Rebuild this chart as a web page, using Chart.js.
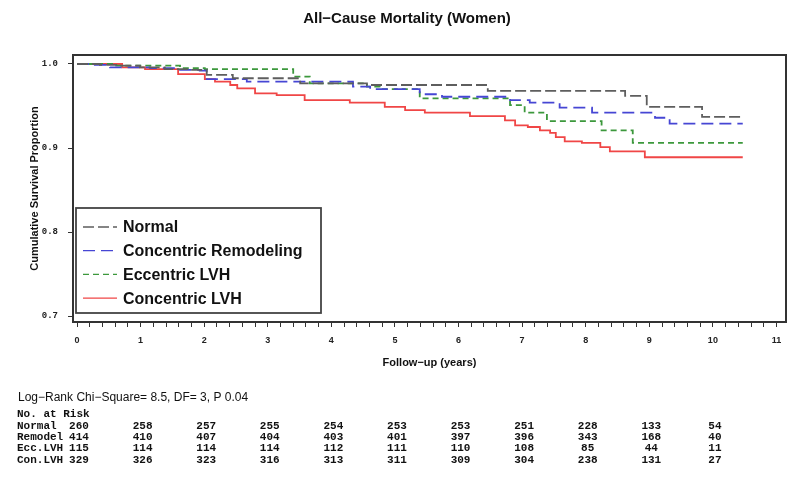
<!DOCTYPE html>
<html>
<head>
<meta charset="utf-8">
<title>All-Cause Mortality (Women)</title>
<script src="https://cdn.jsdelivr.net/npm/chart.js@4.4.1/dist/chart.umd.min.js"></script>
<style>
  html, body { margin: 0; padding: 0; background: #fff; }
</style>
</head>
<body>
<canvas id="km" width="800" height="483"></canvas>
<script>
// Kaplan-Meier steps (years, survival)
const normalT = [0, 0.36, 0.68, 0.99, 1.38, 1.78, 2.04, 2.45, 3.51, 4.56, 6.46, 8.62, 8.96, 9.83, 10.47];
const normalS = [1.0, 0.999, 0.998, 0.996, 0.994, 0.993, 0.987, 0.983, 0.977, 0.975, 0.968, 0.962, 0.949, 0.937, 0.937];

const remodelT = [0, 0.28, 0.52, 1.15, 1.62, 1.93, 2.04, 2.67, 4.34, 4.61, 5.39, 5.74, 6.81, 7.12, 7.59, 8.10, 9.09, 9.32, 10.47];
const remodelS = [1.0, 0.999, 0.996, 0.995, 0.993, 0.992, 0.982, 0.979, 0.973, 0.970, 0.964, 0.961, 0.957, 0.954, 0.948, 0.942, 0.936, 0.929, 0.929];

const eccT = [0, 0.60, 1.62, 2.01, 3.40, 3.66, 4.56, 4.76, 5.39, 6.81, 7.04, 7.39, 8.25, 8.74, 10.47];
const eccS = [1.0, 0.998, 0.995, 0.994, 0.985, 0.977, 0.973, 0.970, 0.959, 0.951, 0.942, 0.932, 0.921, 0.906, 0.906];

const concT = [0, 0.71, 1.07, 1.59, 2.01, 2.17, 2.41, 2.52, 2.80, 3.14, 3.58, 4.29, 4.84, 5.16, 5.47, 6.18, 6.73, 6.89, 7.09, 7.28, 7.44, 7.53, 7.67, 7.94, 8.23, 8.38, 8.93, 10.47];
const concS = [1.0, 0.996, 0.994, 0.988, 0.982, 0.979, 0.975, 0.971, 0.965, 0.963, 0.957, 0.954, 0.949, 0.945, 0.942, 0.938, 0.933, 0.927, 0.925, 0.921, 0.918, 0.913, 0.908, 0.906, 0.901, 0.896, 0.889, 0.889];

const yTicks = [0.7, 0.8, 0.9, 1.0];
const xLabels = [0, 1, 2, 3, 4, 5, 6, 7, 8, 9, 10, 11];

// number at risk table
const riskTimes = [0, 1, 2, 3, 4, 5, 6, 7, 8, 9, 10];
const riskNames = ['Normal', 'Remodel', 'Ecc.LVH', 'Con.LVH'];
const riskNormal = [260, 258, 257, 255, 254, 253, 253, 251, 228, 133, 54];
const riskRemodel = [414, 410, 407, 404, 403, 401, 397, 396, 343, 168, 40];
const riskEcc = [115, 114, 114, 114, 112, 111, 110, 108, 85, 44, 11];
const riskConc = [329, 326, 323, 316, 313, 311, 309, 304, 238, 131, 27];
const logRankText = 'Log\u2212Rank Chi\u2212Square= 8.5, DF= 3, P 0.04';

const toPts = (t, s) => t.map((x, i) => ({ x: x, y: s[i] }));

// minor ticks every 0.2 yr, labels only on whole years
const xTickVals = [];
for (let i = 0; i <= 55; i++) xTickVals.push(Math.round(i * 2) / 10);

const SANS = '"Liberation Sans", Arial, sans-serif';
const MONO = '"Liberation Mono", "DejaVu Sans Mono", monospace';

const decor = {
    id: 'decor',
    afterDatasetsDraw(chart) {
        const { ctx, chartArea: a } = chart;
        ctx.save();
        ctx.strokeStyle = '#333';
        ctx.lineWidth = 2;
        ctx.strokeRect(a.left, a.top, a.right - a.left, a.bottom - a.top);

        // legend box inside plot
        ctx.fillStyle = '#fff';
        ctx.fillRect(76, 208, 245, 105);
        ctx.strokeStyle = '#444';
        ctx.lineWidth = 1.8;
        ctx.strokeRect(76, 208, 245, 105);
        chart.data.datasets.forEach((ds, i) => {
            const y = 227 + i * 23.7;
            ctx.beginPath();
            ctx.setLineDash(ds.borderDash || []);
            ctx.strokeStyle = ds.borderColor;
            ctx.lineWidth = 1.3;
            ctx.moveTo(83, y);
            ctx.lineTo(117, y);
            ctx.stroke();
            ctx.setLineDash([]);
            ctx.fillStyle = '#111';
            ctx.font = 'bold 16px ' + SANS;
            ctx.textBaseline = 'middle';
            ctx.textAlign = 'left';
            ctx.fillText(ds.label, 123, y + 1);
        });
        ctx.restore();
    },
    afterDraw(chart) {
        const { ctx } = chart;
        const xs = chart.scales.x;
        ctx.save();
        ctx.fillStyle = '#111';
        ctx.textBaseline = 'middle';
        ctx.textAlign = 'left';
        ctx.font = '12px ' + SANS;
        ctx.fillText(logRankText, 18, 398);

        ctx.font = 'bold 11px ' + MONO;
        ctx.fillText('No. at Risk', 17, 414);
        const rows = [riskNormal, riskRemodel, riskEcc, riskConc];
        rows.forEach((row, r) => {
            const y = 426 + r * 11.3;
            ctx.textAlign = 'left';
            ctx.fillText(riskNames[r], 17, y);
            ctx.textAlign = 'center';
            row.forEach((n, j) => {
                ctx.fillText(String(n), xs.getPixelForValue(riskTimes[j]) + 2, y);
            });
        });
        ctx.restore();
    }
};

const ctx = document.getElementById('km').getContext('2d');
new Chart(ctx, {
    type: 'line',
    data: {
        datasets: [
            { label: 'Normal', data: toPts(normalT, normalS), borderColor: '#5e5e5e', borderDash: [11, 4] },
            { label: 'Concentric Remodeling', data: toPts(remodelT, remodelS), borderColor: '#4646d4', borderDash: [12, 6] },
            { label: 'Eccentric LVH', data: toPts(eccT, eccS), borderColor: '#3c983c', borderDash: [6, 4] },
            { label: 'Concentric LVH', data: toPts(concT, concS), borderColor: '#f04646', borderDash: [] }
        ]
    },
    options: {
        responsive: false,
        animation: false,
        devicePixelRatio: 1,
        datasets: {
            line: { stepped: true, borderWidth: 1.8, pointRadius: 0, fill: false, tension: 0 }
        },
        layout: { padding: { left: 28, right: 14, top: 0, bottom: 109 } },
        plugins: {
            legend: { display: false },
            tooltip: { enabled: false },
            title: {
                display: true,
                text: 'All\u2212Cause Mortality (Women)',
                color: '#111',
                font: { family: SANS, size: 15, weight: 'bold' },
                padding: { top: 10, bottom: 27 }
            }
        },
        scales: {
            x: {
                type: 'linear',
                min: -0.063,
                max: 11.15,
                afterBuildTicks: s => { s.ticks = xTickVals.map(v => ({ value: v })); },
                afterFit: s => { s.height = 52; },
                ticks: {
                    autoSkip: false,
                    maxRotation: 0,
                    padding: 8,
                    color: '#222',
                    font: { family: SANS, size: 9, weight: 'bold' },
                    callback: v => (xLabels.includes(v) ? String(v) : '')
                },
                grid: { drawOnChartArea: false, drawTicks: true, tickLength: 5, color: '#333' },
                border: { color: '#333', width: 2 },
                title: {
                    display: true,
                    text: 'Follow\u2212up (years)',
                    color: '#111',
                    font: { family: SANS, size: 11, weight: 'bold' },
                    padding: { top: 0, bottom: 4 }
                }
            },
            y: {
                type: 'linear',
                min: 0.6929,
                max: 1.0107,
                afterBuildTicks: s => { s.ticks = yTicks.map(v => ({ value: v })); },
                afterFit: s => { s.width = 45; },
                ticks: {
                    padding: 10,
                    color: '#222',
                    font: { family: MONO, size: 9, weight: 'bold' },
                    callback: v => v.toFixed(1)
                },
                grid: { drawOnChartArea: false, drawTicks: true, tickLength: 5, color: '#333' },
                border: { color: '#333', width: 2 },
                title: {
                    display: true,
                    text: 'Cumulative Survival Proportion',
                    color: '#111',
                    font: { family: SANS, size: 11, weight: 'bold' },
                    padding: { top: 0, bottom: 0 }
                }
            }
        }
    },
    plugins: [decor]
});
</script>
</body>
</html>
